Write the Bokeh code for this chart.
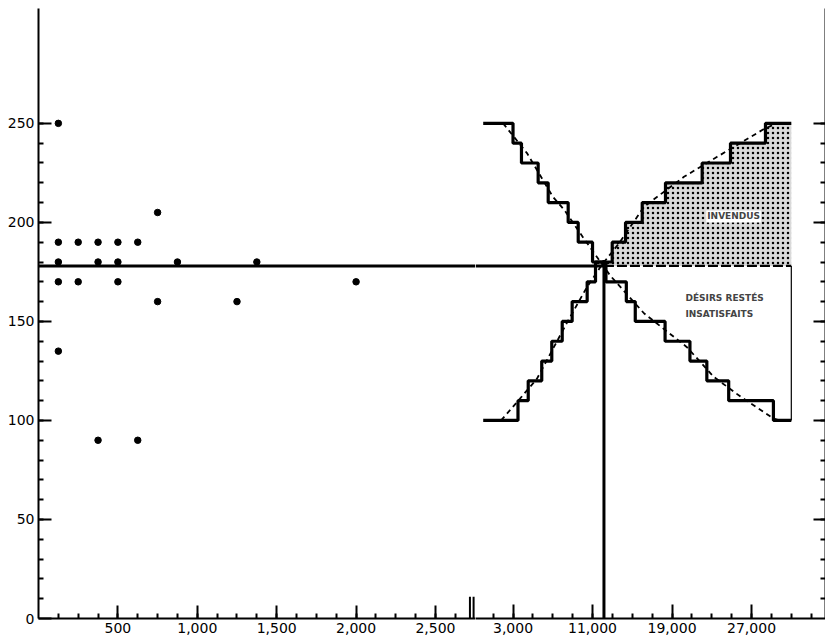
from bokeh.plotting import figure
from bokeh.models import (FixedTicker, NumeralTickFormatter, Label, Range1d, Arrow)
from bokeh.layouts import row
from bokeh.embed import file_html
from bokeh.resources import INLINE

# ---------------- data ----------------
# left panel: individual observations (quantity, price)
scatter_x = [125, 750, 125, 250, 375, 500, 625, 125, 375, 500, 875, 1375,
             125, 250, 500, 2000, 750, 1250, 125, 375, 625]
scatter_y = [250, 205, 190, 190, 190, 190, 190, 180, 180, 180, 180, 180,
             170, 170, 170, 170, 160, 160, 135, 90, 90]

equilibrium_price = 178
equilibrium_qty = 12150

# right panel: step curves (quantity where step starts, price level)
supply_x = [0, 3500, 4530, 5890, 6900, 7950, 8950, 10460, 11300, 12980,
            14320, 16000, 18340, 22030, 24880, 28400, 31000]
supply_y = [100, 110, 120, 130, 140, 150, 160, 170, 180, 190,
            200, 210, 220, 230, 240, 250, 250]
demand_x = [0, 3000, 3850, 5530, 6540, 8550, 9560, 11000, 12350, 14400,
            15300, 18300, 20800, 22500, 24700, 29200, 31000]
demand_y = [250, 240, 230, 220, 210, 200, 190, 180, 170, 160,
            150, 140, 130, 120, 110, 100, 100]

# smoothed (dashed) curves
supply_trend_x = [1800, 3700, 5400, 7000, 8500, 10400, 12000, 13600, 16200,
                  20200, 23500, 28200, 29500]
supply_trend_y = [100, 111, 121, 136, 150, 167, 179, 189, 208, 223, 233, 247, 250]
demand_trend_x = [2000, 4400, 7000, 8200, 10100, 12800, 16200, 20500, 23200,
                  25900, 29200, 29800]
demand_trend_y = [250, 235, 213, 206, 192, 173, 154, 137, 122, 112, 101, 100]

market_end = 31000

left_ticks = [500, 1000, 1500, 2000, 2500]
left_minor = list(range(125, 2626, 125))
right_ticks = [3000, 11000, 19000, 27000]
right_minor = list(range(1000, 34001, 2000))
y_ticks = [0, 50, 100, 150, 200, 250]
y_minor = list(range(10, 251, 10))

FONT = "DejaVu Sans"
LEFT_X_END = 2752
RIGHT_X = (-775, 34440)
Y_TOP = 308

# ---------------- left panel ----------------
left = figure(frame_width=437, frame_height=610, output_backend="svg",
              toolbar_location=None, x_range=Range1d(0, LEFT_X_END),
              y_range=Range1d(0, Y_TOP), min_border_left=38, min_border_right=0,
              min_border_top=8, min_border_bottom=0)
left.grid.visible = False
left.outline_line_color = None

for ax in (left.xaxis[0], left.yaxis[0]):
    ax.axis_line_width = 2
    ax.major_tick_line_width = 2
    ax.minor_tick_line_width = 2
    ax.major_tick_out = 0
    ax.minor_tick_out = 0
    ax.major_tick_in = 13
    ax.minor_tick_in = 5
    ax.major_label_text_font = FONT
    ax.major_label_text_font_size = "14px"
    ax.major_label_text_color = "black"
    ax.major_label_standoff = 4

left.xaxis.ticker = FixedTicker(ticks=left_ticks, minor_ticks=left_minor)
left.xaxis.formatter = NumeralTickFormatter(format="0,0")
left.yaxis.ticker = FixedTicker(ticks=y_ticks, minor_ticks=y_minor)

left.line([0, LEFT_X_END], [equilibrium_price, equilibrium_price],
          line_color="black", line_width=3)
left.scatter(scatter_x, scatter_y, size=6.5, color="black")

for xb in (2717, 2740):
    left.add_layout(Arrow(x_start=xb, y_start=-11, x_end=xb, y_end=11,
                          start=None, end=None, line_width=2, line_color="black"))

# ---------------- right panel ----------------
right = figure(frame_width=350, frame_height=610, output_backend="svg",
               toolbar_location=None, x_range=Range1d(*RIGHT_X),
               y_range=Range1d(0, Y_TOP), y_axis_location="right",
               min_border_left=0, min_border_right=0,
               min_border_top=8, min_border_bottom=0)
right.grid.visible = False
right.outline_line_color = None

for ax in (right.xaxis[0], right.yaxis[0]):
    ax.axis_line_width = 2
    ax.major_tick_line_width = 2
    ax.minor_tick_line_width = 2
    ax.major_tick_out = 0
    ax.minor_tick_out = 0
    ax.major_tick_in = 14
    ax.minor_tick_in = 5
    ax.major_label_text_font = FONT
    ax.major_label_text_font_size = "14px"
    ax.major_label_text_color = "black"
    ax.major_label_standoff = 4

right.xaxis.ticker = FixedTicker(ticks=right_ticks, minor_ticks=right_minor)
right.xaxis.formatter = NumeralTickFormatter(format="0,0")
right.yaxis.ticker = FixedTicker(ticks=y_ticks[1:], minor_ticks=y_minor)
right.yaxis.major_tick_in = 12
right.yaxis.major_label_text_color = None
right.yaxis.major_label_standoff = 0

# stippled "invendus" area between supply curve and equilibrium price
px, py = [], []
for i in range(len(supply_x) - 1):
    if supply_y[i] > equilibrium_price:
        if not px:
            px.append(supply_x[i]); py.append(equilibrium_price)
        px += [supply_x[i], supply_x[i + 1]]
        py += [supply_y[i], supply_y[i]]
px.append(market_end); py.append(equilibrium_price)
right.patch(px, py, fill_color="#d9d9d9", line_color=None,
            hatch_pattern="dot", hatch_color="black", hatch_scale=5,
            hatch_weight=2.4)

# equilibrium lines
right.line([RIGHT_X[0], equilibrium_qty], [equilibrium_price, equilibrium_price],
           line_color="black", line_width=3)
right.line([equilibrium_qty, market_end], [equilibrium_price, equilibrium_price],
           line_color="black", line_width=2.2, line_dash="10 3")
right.line([equilibrium_qty, equilibrium_qty], [0, 181],
           line_color="black", line_width=3)
right.line([market_end, market_end], [demand_y[-1], equilibrium_price],
           line_color="black", line_width=1.2)

# dashed smooth curves
right.line(supply_trend_x, supply_trend_y, line_color="black", line_width=1.8,
           line_dash="5 4")
right.line(demand_trend_x, demand_trend_y, line_color="black", line_width=1.8,
           line_dash="5 4")

# step curves
right.step(supply_x, supply_y, mode="after", line_color="black", line_width=3.2)
right.step(demand_x, demand_y, mode="after", line_color="black", line_width=3.2)

right.add_layout(Label(x=25200, y=203, text="INVENDUS", text_align="center",
                       text_baseline="middle", text_font=FONT,
                       text_font_size="9px", text_font_style="bold",
                       background_fill_color="white", padding=1))
right.add_layout(Label(x=20350, y=162, text="DÉSIRS  RESTÉS", text_align="left",
                       text_baseline="middle", text_font=FONT,
                       text_font_size="9px", text_font_style="bold"))
right.add_layout(Label(x=20350, y=154, text="INSATISFAITS", text_align="left",
                       text_baseline="middle", text_font=FONT,
                       text_font_size="9px", text_font_style="bold"))

layout = row(left, right, spacing=0)
open("out.html", "w").write(file_html(layout, INLINE))
